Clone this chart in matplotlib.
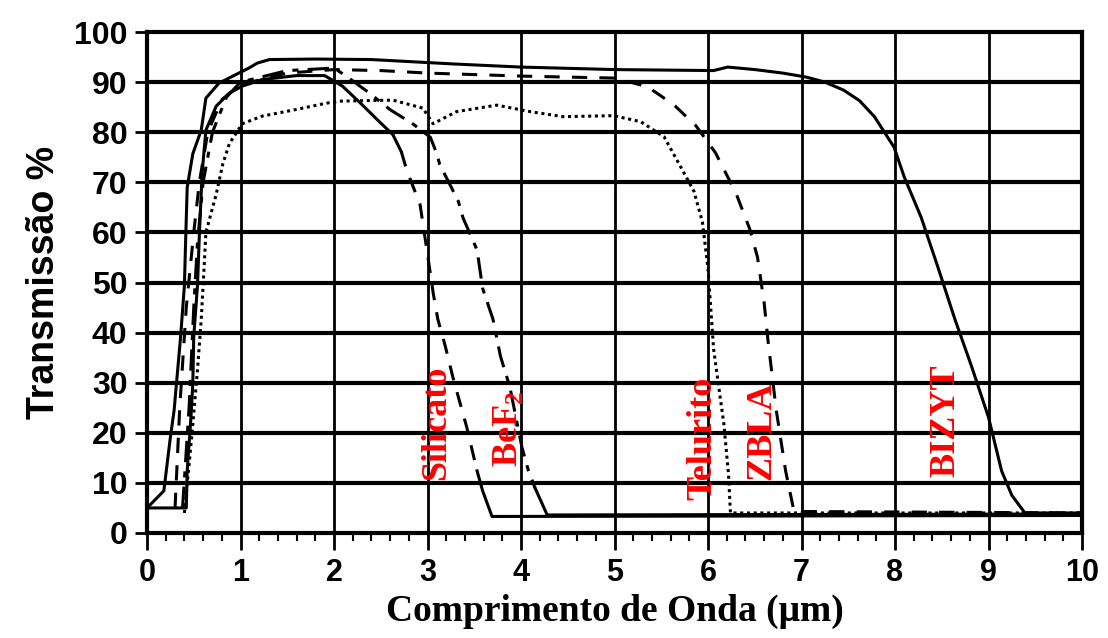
import numpy as np
import matplotlib.pyplot as plt
from matplotlib.ticker import MultipleLocator

plt.rcParams['mathtext.fontset'] = 'custom'
plt.rcParams['mathtext.rm'] = 'Liberation Serif:bold'

# curvas de transmissão (x em um, y em %)
silicato_x = [0.0, 0.42, 0.43, 0.47, 0.49, 0.50, 0.54, 0.56, 0.59, 0.63, 0.74, 0.88, 1.02, 1.23, 1.6, 1.9,
              2.09, 2.3, 2.49, 2.63, 2.72, 2.78, 2.92, 2.99, 3.06, 3.11, 3.19, 3.27, 3.35, 3.42, 3.53, 3.59,
              3.69, 10.0]
silicato_y = [5, 5, 12.4, 23.1, 29.8, 39.3, 49.4, 59.5, 72, 80.4, 85.2, 87.8, 89.2, 90.5, 91.3, 91.3,
              89.2, 85.5, 82, 79.5, 76.1, 72.3, 65.6, 56.9, 48.0, 42.7, 37.3, 31.2, 25.8, 21.1, 12.4, 8.4,
              3.3, 3.5]

bef2_x = [0.38, 0.45, 0.5, 0.54, 0.6, 0.7, 0.85, 1.0, 1.5, 2.0, 2.13, 2.38, 2.6, 2.84, 3.03, 3.10, 3.13,
          3.33, 3.38, 3.53, 3.59, 3.70, 3.78, 3.88, 4.01, 4.08, 4.15, 4.28, 10.0]
bef2_y = [5, 25, 45, 58, 70, 80, 87, 90, 92.3, 92.8, 91.2, 87.8, 84.5, 81.7, 79.0, 75.7, 73.6,
          66.2, 62.9, 56.5, 48.8, 42.7, 35.3, 29.2, 17.1, 12.4, 9.0, 3.6, 3.8]

telurito_x = [0.40, 0.45, 0.49, 0.54, 0.58, 0.61, 0.63, 0.74, 0.81, 0.88, 0.95, 1.02, 1.23, 1.56, 1.92,
              2.06, 2.63, 2.95, 3.06, 3.31, 3.74, 4.1, 4.45, 4.99, 5.28, 5.53, 5.71, 5.85, 5.94, 6.0,
              6.06, 6.17, 6.22, 6.24, 10.0]
telurito_y = [4, 13.6, 21.7, 32.6, 42.6, 52.8, 60, 67.6, 73.6, 77.7, 79.7, 81.7, 83.2, 84.4, 85.8,
              86.2, 86.4, 84.8, 81.7, 84.1, 85.4, 84.1, 83.1, 83.3, 82.1, 79.1, 73, 68.2, 62.1, 52.8,
              36.7, 21.7, 11.6, 4.0, 4.0]

zbla_x = [0.3, 0.35, 0.42, 0.5, 0.56, 0.65, 0.8, 1.0, 1.5, 2.0, 2.5, 3.0, 4.0, 5.0, 5.35, 5.5, 5.65,
          5.87, 6.08, 6.3, 6.45, 6.53, 6.6, 6.64, 6.73, 6.83, 6.92, 10.0]
zbla_y = [5, 25, 45, 60, 70, 80, 86.5, 89.5, 91.8, 92.5, 92.3, 91.8, 91.2, 90.8, 89.1, 87.2, 85.2,
          81.3, 75.9, 67.8, 60.5, 55, 46, 38.7, 24.5, 12.4, 4.3, 4.0]

bizyt_x = [0.0, 0.18, 0.25, 0.29, 0.36, 0.40, 0.415, 0.43, 0.49, 0.58, 0.63, 0.77, 0.95, 1.09, 1.18, 1.31,
           1.8, 2.4, 3.3, 4.0, 5.0, 6.06, 6.21, 6.5, 6.8, 7.05, 7.25, 7.45, 7.62, 7.78, 7.99, 8.1, 8.28,
           8.46, 8.64, 8.82, 9.0, 9.14, 9.25, 9.39, 10.0]
bizyt_y = [5, 8.4, 19.1, 24.5, 39.3, 49.4, 59.5, 69, 75.7, 80.4, 86.8, 89.8, 91.5, 92.8, 93.8, 94.5,
           94.6, 94.5, 93.6, 93.0, 92.5, 92.3, 93.0, 92.5, 91.8, 91.0, 90.0, 88.4, 86.3, 83.1, 77, 71, 63,
           53, 42.7, 33.2, 23.1, 12.4, 7.5, 4.0, 4.0]

rotulos = ['Silicato', 'BeF$_\\mathrm{2}$', 'Telurito', 'ZBLA', 'BIZYT']
rotulos_x = [3.10, 3.86, 5.95, 6.57, 8.55]
rotulos_y = [10.6, 13.2, 6.6, 10.6, 11.2]

fig = plt.figure(figsize=(11.08, 6.38), dpi=100)
ax = fig.add_axes([147/1108, 1 - 533/638, (1082 - 147)/1108, (533 - 32)/638])

ax.hlines(np.arange(10, 100, 10), 0, 10, color='black', lw=3, zorder=1)
ax.vlines(np.arange(1, 10), 0, 100, color='black', lw=2, zorder=1)

lw = 2.2
# silicato: sólido, trecho tracejado na queda
ax.plot(silicato_x[:21], silicato_y[:21], color='black', lw=lw, zorder=3)
ax.plot(silicato_x[20:31], silicato_y[20:31], color='black', lw=lw, ls=(0, (5, 4)), zorder=3)
ax.plot(silicato_x[30:], silicato_y[30:], color='black', lw=lw, zorder=3)
# BeF2: traço-ponto, final sólido
ax.plot(bef2_x[:27], bef2_y[:27], color='black', lw=lw, ls=(0, (7, 3, 2, 3)), zorder=3)
ax.plot(bef2_x[26:], bef2_y[26:], color='black', lw=lw, zorder=3)
ax.plot(telurito_x, telurito_y, color='black', lw=lw, ls=(0, (1, 1.2)), zorder=3)
ax.plot(zbla_x, zbla_y, color='black', lw=lw, ls=(0, (5, 4)), zorder=3)
ax.plot(bizyt_x, bizyt_y, color='black', lw=lw, zorder=3)

for txt, x, y in zip(rotulos, rotulos_x, rotulos_y):
    ax.text(x, y, txt, rotation=90, color='red', fontsize=26, fontweight='bold',
            family='Liberation Serif', ha='center', va='bottom', zorder=4)

ax.set_xlim(0, 10)
ax.set_ylim(0, 100)
ax.set_xticks(np.arange(0, 11, 1))
ax.set_yticks(np.arange(0, 101, 10))
ax.xaxis.set_minor_locator(MultipleLocator(0.2))
ax.tick_params(axis='x', which='major', length=12, width=2, pad=6)
ax.tick_params(axis='x', which='minor', length=6, width=1.5)
ax.tick_params(axis='y', which='major', length=9, width=2, pad=5)
for lab in ax.get_xticklabels():
    lab.set_family('Liberation Sans')
    lab.set_fontweight('bold')
    lab.set_fontsize(22)
for lab in ax.get_yticklabels():
    lab.set_family('Liberation Sans')
    lab.set_fontweight('bold')
    lab.set_fontsize(23)
for s in ax.spines.values():
    s.set_linewidth(3)

ax.set_ylabel('Transmissão %', family='Liberation Sans', fontweight='bold', fontsize=27, labelpad=9)
ax.set_xlabel('Comprimento de Onda (μm)', family='Liberation Serif', fontweight='bold', fontsize=27,
              labelpad=4)

fig.savefig('out.png', dpi=100)
